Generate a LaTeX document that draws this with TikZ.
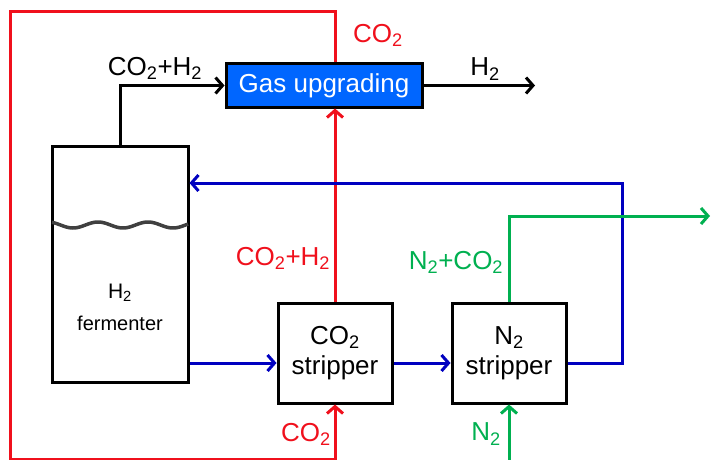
\documentclass[tikz,border=0pt]{standalone}
\usepackage{fontspec}
\setmainfont{Liberation Sans}
\usetikzlibrary{arrows.meta}
\definecolor{flowred}{RGB}{240,16,28}
\definecolor{flowblue}{RGB}{0,0,192}
\definecolor{flowgreen}{RGB}{0,176,80}
\definecolor{upgfill}{RGB}{0,102,255}
\definecolor{wavegray}{RGB}{64,64,64}
\newcommand{\two}{\textsubscript{2}}
\tikzset{
  unitbox/.style={draw,line width=3pt,minimum width=114pt,minimum height=100pt,
    align=center,inner sep=0pt,font=\fontsize{26}{30}\selectfont},
  flow/.style={line width=3pt,-{Straight Barb[length=7pt,width=16pt]}},
  tag/.style={inner sep=0pt,font=\fontsize{26}{30}\selectfont}
}
\begin{document}
\begin{tikzpicture}[x=1pt,y=-1pt]
\useasboundingbox (0,0) rectangle (712,460);
% units
\node[unitbox,fill=upgfill,text=white,minimum width=196pt,minimum height=43pt] (upg) at (324,85.5) {Gas upgrading};
\node[draw,line width=3pt,minimum width=136pt,minimum height=236pt] (ferm) at (120,264) {};
\node[anchor=base,inner sep=0pt,font=\fontsize{21}{25}\selectfont] (fermtop) at (120,298) {H\two};
\node[anchor=base,inner sep=0pt,font=\fontsize{20}{24}\selectfont] (fermbot) at (120,330) {fermenter};
\node[unitbox] (co2s) at (335,353) {CO\two\\stripper};
\node[unitbox] (n2s) at (509,353) {N\two\\stripper};
\draw[wavegray,line width=3.5pt] plot[domain=52:188,samples=80] (\x,{225+3*sin(7.2*(\x-60.5))});
% fixed points
\coordinate (tl) at (10,12);
\coordinate (bl) at (10,459);
\coordinate (h2end) at (535,87);
\coordinate (rb) at (622,183);
\coordinate (gout) at (710,216);
\coordinate (n2in) at (509,460);
% streams
\draw[flow] (ferm.north) |- (upg.west);
\draw[flow] (upg.east) -- (upg.east -| h2end);
\draw[flow,flowred] (co2s.north) -- (co2s.north |- upg.south);
\draw[flow,flowred] (upg.north -| co2s) -- (co2s |- tl) -- (tl) -- (bl) -- (bl -| co2s) -- (co2s.south);
\draw[flow,flowblue] ([yshift=-10pt]ferm.east |- co2s.west) -- ([yshift=-10pt]co2s.west);
\draw[flow,flowblue] ([yshift=-10pt]co2s.east) -- ([yshift=-10pt]n2s.west);
\draw[flow,flowblue] ([yshift=-10pt]n2s.east) -| (rb) -- (rb -| ferm.east);
\draw[flow,flowgreen] (n2s.north) |- (gout);
\draw[flow,flowgreen] (n2in) -- (n2s.south);
% labels
\node[tag] (l1) at (155,68) {CO\two+H\two};
\node[tag] (l2) at (485,69) {H\two};
\node[tag,flowred] (l3) at (378,35) {CO\two};
\node[tag,flowred] (l4) at (283,258) {CO\two+H\two};
\node[tag,flowred] (l5) at (306,434) {CO\two};
\node[tag,flowgreen] (l6) at (456,262) {N\two+CO\two};
\node[tag,flowgreen] (l7) at (486,434) {N\two};
\end{tikzpicture}
\end{document}
